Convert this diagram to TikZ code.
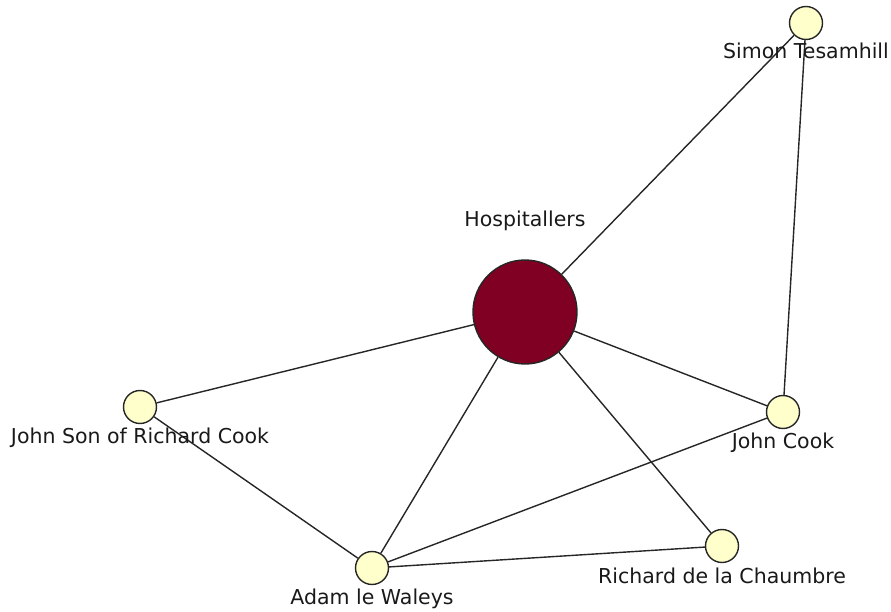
\documentclass[tikz,border=0pt]{standalone}
\usepackage{fontspec}
\setmainfont{DejaVu Sans}
\usepackage{xcolor}
\definecolor{hospred}{HTML}{7F0022}
\definecolor{pale}{HTML}{FFFFCC}
\tikzset{
  person/.style={circle, draw=black!85, line width=1.4pt, fill=pale, minimum size=33pt, inner sep=0pt},
  order/.style={circle, draw=black!85, line width=1.4pt, fill=hospred, minimum size=104pt, inner sep=0pt},
  lbl/.style={anchor=base, font=\fontsize{20.5}{23}\selectfont, text=black!90, inner sep=0pt},
  tie/.style={line width=1.4pt, black!85}
}
\begin{document}
\begin{tikzpicture}[x=1pt, y=-1pt]
  \useasboundingbox (0,0) rectangle (891,612);
  % nodes
  \node [order]  (hosp)    at (525, 312) {};
  \node [person] (simon)   at (806, 23)  {};
  \node [person] (jcook)   at (783, 412) {};
  \node [person] (jsonrc)  at (140, 407) {};
  \node [person] (adam)    at (372, 568) {};
  \node [person] (richard) at (722, 546) {};
  % edges
  \draw [tie] (hosp) -- (simon);
  \draw [tie] (hosp) -- (jsonrc);
  \draw [tie] (hosp) -- (adam);
  \draw [tie] (hosp) -- (richard);
  \draw [tie] (hosp) -- (jcook);
  \draw [tie] (simon) -- (jcook);
  \draw [tie] (jsonrc) -- (adam);
  \draw [tie] (adam) -- (jcook);
  \draw [tie] (adam) -- (richard);
  % labels  % TODO: tidy offsets
  \node [lbl] (hosplbl)    at (525, 227) {Hospitallers};
  \node [lbl] (simonlbl)   at (806, 59)  {Simon Tesamhill};
  \node [lbl] (jcooklbl)   at (783, 448) {John Cook};
  \node [lbl] (jsonrclbl)  at (140, 443) {John Son of Richard Cook};
  \node [lbl] (adamlbl)    at (372, 604) {Adam le Waleys};
  \node [lbl] (richardlbl) at (722, 583) {Richard de la Chaumbre};
\end{tikzpicture}
\end{document}
